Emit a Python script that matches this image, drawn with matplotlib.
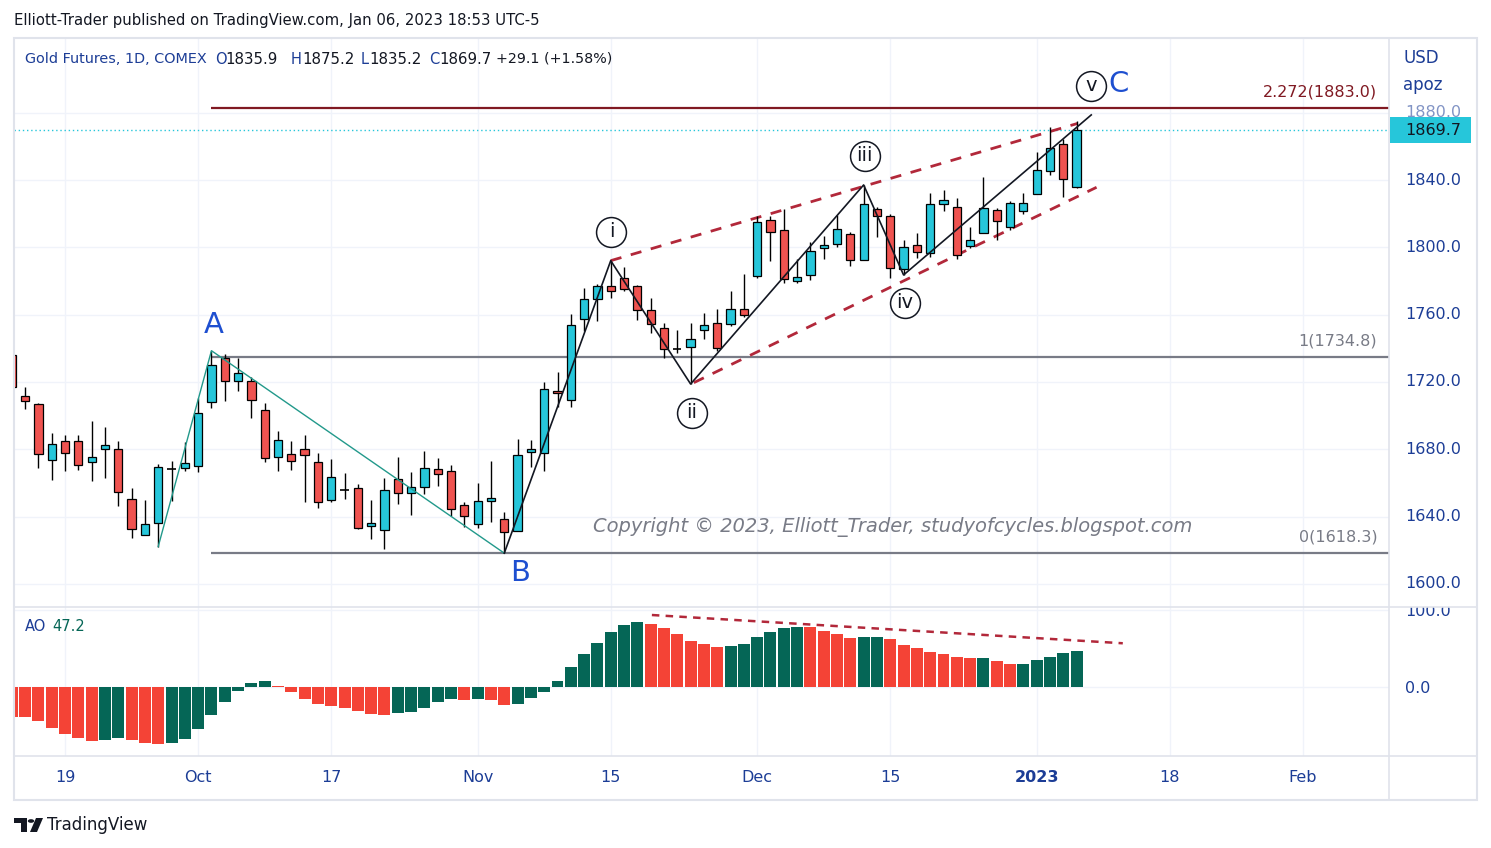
import matplotlib
matplotlib.use('Agg')
import matplotlib.pyplot as plt
from matplotlib.patches import Rectangle, Polygon, Circle
from matplotlib.lines import Line2D

# daily bars, index 0 = 2022-09-19 (trading days only)
bar_idx = list(range(-4, 77))
opens = [1736, 1711.5, 1706.8, 1673.5, 1684.8, 1684.8, 1672.7, 1680.4, 1680, 1650.3,
         1629, 1636, 1668.3, 1669.1, 1669.9, 1708, 1734.1, 1720.4, 1720.4, 1703.2,
         1675.3, 1677.1, 1680, 1672.3, 1649.7, 1655.7, 1656.8, 1634.3, 1631.9, 1662.2,
         1653.9, 1657.5, 1668.1, 1667, 1646.7, 1635.5, 1649.5, 1638.5, 1631.3, 1678.2,
         1677.7, 1714.9, 1709.2, 1757.7, 1769.2, 1776.9, 1781.7, 1776.9, 1762.6, 1752,
         1739.6, 1740.6, 1750.7, 1755, 1754.3, 1763.2, 1782.9, 1816.5, 1810.2, 1780.2,
         1783.5, 1799.5, 1801.9, 1807.8, 1792.4, 1822.7, 1818.5, 1787, 1801.3, 1796.6,
         1825.7, 1824, 1800.7, 1808.5, 1822.2, 1812, 1821.5, 1831.5, 1845.2, 1861.3,
         1835.9]
highs = [1738, 1717, 1707.4, 1689.5, 1688.5, 1688.5, 1696.9, 1693.5, 1685, 1656.8,
         1650, 1671.3, 1673, 1684.2, 1710.3, 1738.6, 1736.5, 1734.1, 1722.8, 1707.4,
         1690.9, 1685, 1688.5, 1677.7, 1674.3, 1666, 1659.4, 1649.9, 1662.8, 1675.5,
         1666.4, 1679, 1674.7, 1670.7, 1648.4, 1660, 1673, 1642.6, 1686.2, 1685.6,
         1719.9, 1725.8, 1760.4, 1775.9, 1778.3, 1792.1, 1788.2, 1777.7, 1769.8, 1755,
         1750.9, 1755, 1760.8, 1763.2, 1773.8, 1784.3, 1818.4, 1818.7, 1822.7, 1792.9,
         1803, 1806.8, 1819.3, 1809.2, 1837.1, 1824.2, 1819.7, 1804.5, 1808.4, 1832.3,
         1834.1, 1829.3, 1812, 1841.8, 1823.2, 1827.6, 1832.1, 1856.5, 1871.4, 1864.3,
         1875.2]
lows = [1715, 1704, 1669, 1662, 1667, 1667.7, 1661.4, 1663.2, 1646.5, 1627.5,
        1629, 1622.2, 1649.5, 1667.4, 1666.8, 1704.4, 1709, 1714.9, 1698.4, 1672.7,
        1667.4, 1667.7, 1648.5, 1645.3, 1648.9, 1650.5, 1632.5, 1626.6, 1621, 1647.7,
        1641.2, 1653.5, 1658.4, 1640.4, 1634.1, 1633.5, 1637, 1618.3, 1631.3, 1669.7,
        1667.4, 1705.4, 1705.4, 1750.3, 1756, 1770.2, 1773.8, 1756.9, 1749.4, 1734.1,
        1737.5, 1718.8, 1745.5, 1738.4, 1753.5, 1758.5, 1782, 1792.1, 1778.7, 1779.1,
        1780.6, 1793.3, 1800.5, 1789.2, 1792.4, 1806.4, 1782, 1783.6, 1793.5, 1794.3,
        1821.9, 1792.9, 1799.7, 1808.5, 1804.4, 1810.4, 1820.1, 1831.5, 1842.9, 1830.2,
        1835.2]
closes = [1717, 1708.6, 1677.1, 1683, 1677.7, 1670.5, 1675.3, 1682.4, 1654.9, 1632.9,
          1635.5, 1669.3, 1668.3, 1671.7, 1701.4, 1729.9, 1720.4, 1725.2, 1709.3, 1674.7,
          1685.4, 1672.9, 1676.4, 1648.5, 1663.4, 1655.7, 1633.5, 1636.2, 1655.7, 1653.9,
          1657.5, 1668.7, 1665.1, 1644.4, 1640.2, 1649.1, 1650.9, 1630.7, 1676.5, 1680,
          1715.7, 1713.3, 1753.7, 1769.2, 1776.9, 1774, 1775.5, 1762.8, 1754.3, 1739.5,
          1739.6, 1745.4, 1753.7, 1740.1, 1763.2, 1759.6, 1815, 1809, 1781.1, 1782.4,
          1797.8, 1801.4, 1810.8, 1792.4, 1825.7, 1818.5, 1787.6, 1800.1, 1797.5, 1825.7,
          1828.1, 1795.4, 1804.3, 1823.4, 1815.6, 1826.3, 1826.3, 1845.8, 1858.9, 1840.5,
          1869.7]
ao_vals = [-38.5, -38.6, -43.7, -52.8, -60.6, -65.8, -69.7, -68.4, -65.8, -68.4,
           -72.3, -73.6, -72.3, -67.1, -54.1, -35.9, -19.0, -4.8, 5.2, 8.2,
           1.3, -6.0, -15.1, -21.6, -24.2, -26.8, -30.7, -34.6, -35.9, -33.3,
           -33.1, -26.8, -19.0, -15.1, -16.4, -15.1, -16.4, -22.9, -21.6, -13.8,
           -6.0, 7.4, 25.5, 42.4, 56.7, 71.0, 80.1, 84.0, 81.4, 76.2,
           68.4, 59.3, 55.4, 51.5, 52.8, 55.4, 64.5, 71.0, 76.2, 77.5,
           77.3, 72.3, 68.4, 63.2, 64.5, 64.6, 61.9, 54.1, 50.2, 45.0,
           42.4, 38.5, 37.2, 37.3, 33.3, 29.4, 29.5, 34.6, 38.5, 43.7,
           47.2]

tick_idx = [0, 10, 20, 31, 41, 52, 62, 73, 83, 93]
tick_lbl = ['19', 'Oct', '17', 'Nov', '15', 'Dec', '15', '2023', '18', 'Feb']
price_ticks = [1600, 1640, 1680, 1720, 1760, 1800, 1840, 1880]
ao_ticks = [100, 0]

# fib extension B -> A
fib_zero, fib_one = 1618.3, 1734.8
fib_ratios = [0, 1, 2.272]
fib_start = 11

# wave pivots (bar index, 'h'/'l')
abc_pivots = [(7, 'l'), (11, 'h'), (33, 'l')]
impulse_pivots = [(33, 'l'), (41, 'h'), (47, 'l'), (60, 'h'), (63, 'l')]
impulse_end = (77.1, 1878.7)
upper_chan = [(41.0, 1792.1), (76.1, 1873.7)]
lower_chan = [(47.24, 1719.6), (77.5, 1835.7)]
ao_trend = [(44.09, 93.5), (79.47, 56.8)]

wave_labels = [('i', 41.05, 1809.2), ('ii', 47.07, 1701.6), ('iii', 60.08, 1854.3),
               ('iv', 63.08, 1767.0), ('v', 77.07, 1895.9)]
abc_labels = [('A', 11.2, 1753.9), ('B', 34.2, 1606.5), ('C', 79.17, 1897.1)]

last_price = closes[-1]

UP, DOWN = '#26c6da', '#ef5350'
AO_UP, AO_DN = '#056656', '#f44336'
NAVY = '#1c3d96'
INK = '#131722'
GRID = '#f0f3fa'
FRAME = '#e0e3eb'

W, H = 1491, 848
def fx(px): return px / W
def fy(py): return 1 - py / H

fig = plt.figure(figsize=(W / 100, H / 100), dpi=100)
fig.patch.set_facecolor('white')

L, R, TOP, MID, BOT, RR, TBOT = 14, 1389, 38, 607, 756, 1477, 800
ax = fig.add_axes([fx(L), fy(MID), (R - L) / W, (MID - TOP) / H])
ax2 = fig.add_axes([fx(L), fy(BOT), (R - L) / W, (BOT - MID) / H])
axr = fig.add_axes([fx(R), fy(MID), (RR - R) / W, (MID - TOP) / H])
axr2 = fig.add_axes([fx(R), fy(BOT), (RR - R) / W, (BOT - MID) / H])

xmin, xmax = -3.834, 99.47
ax.set_xlim(xmin, xmax)
ax2.set_xlim(xmin, xmax)
ax.set_ylim(1586.3, 1924.4)
axr.set_ylim(1586.3, 1924.4)
ax2.set_ylim(-89.6, 103.9)
axr2.set_ylim(-89.6, 103.9)
for a in (ax, ax2, axr, axr2):
    a.axis('off')

# grid
for t in tick_idx:
    ax.axvline(t, color=GRID, lw=1, zorder=0)
    ax2.axvline(t, color=GRID, lw=1, zorder=0)
for p in price_ticks:
    ax.axhline(p, color=GRID, lw=1, zorder=0)
for p in ao_ticks:
    ax2.axhline(p, color=GRID, lw=1, zorder=0)

# fib levels
fib_cols = ['#787b86', '#787b86', '#801922']
for r, c in zip(fib_ratios, fib_cols):
    lvl = fib_zero + r * (fib_one - fib_zero)
    ax.hlines(lvl, fib_start, xmax, color=c, lw=1.6, zorder=2)
    ax.annotate(f'{r:g}({lvl:.1f})', xy=(1, lvl), xycoords=('axes fraction', 'data'),
                xytext=(-8.5, 11.5), textcoords='offset points', ha='right', va='center',
                fontsize=11.5, color=c)

ax.axhline(last_price, color=UP, lw=1, ls=(0, (1, 2)), zorder=1)

# channel
for pts in (upper_chan, lower_chan):
    ax.plot([p[0] for p in pts], [p[1] for p in pts], color='#b2283a', lw=2.0,
            dashes=(4, 3.5), zorder=2)

# candles
for i, o, h, l, c in zip(bar_idx, opens, highs, lows, closes):
    ax.vlines(i, l, h, color='black', lw=1, zorder=3)
    if c == o:
        ax.hlines(c, i - 0.31, i + 0.31, color='black', lw=1.2, zorder=4)
    else:
        col = UP if c > o else DOWN
        ax.add_patch(Rectangle((i - 0.31, min(o, c)), 0.62, abs(c - o), fc=col,
                               ec='black', lw=0.9, zorder=4))

def piv(idx, kind):
    k = bar_idx.index(idx)
    return (idx, highs[k] if kind == 'h' else lows[k])

pa = [piv(*p) for p in abc_pivots]
ax.plot([p[0] for p in pa], [p[1] for p in pa], color='#22998b', lw=1.0, zorder=5)
pi = [piv(*p) for p in impulse_pivots] + [impulse_end]
ax.plot([p[0] for p in pi], [p[1] for p in pi], color=INK, lw=1.2, zorder=5)

for txt, x, y in wave_labels:
    ax.plot(x, y, 'o', ms=21.5, mfc='white', mec=INK, mew=1.1, zorder=6)
    ax.text(x, y, txt, ha='center', va='center', fontsize=14, color=INK, zorder=7)
for txt, x, y in abc_labels:
    ax.text(x, y, txt, ha='center', va='center', fontsize=21, color='#1e4fd0', zorder=7)

fig.text(fx(893), fy(527), 'Copyright © 2023, Elliott_Trader, studyofcycles.blogspot.com',
         ha='center', va='center', fontsize=14, style='italic', color='#787b86')

# AO panel
ao_cols = [AO_DN] + [AO_UP if b > a else AO_DN for a, b in zip(ao_vals[:-1], ao_vals[1:])]
ax2.bar(bar_idx, ao_vals, width=0.9, color=ao_cols, zorder=3)
ax2.plot([p[0] for p in ao_trend], [p[1] for p in ao_trend], color='#b2283a', lw=1.8,
         dashes=(3, 2.5), zorder=4)
ax2.text(0.0077, 0.87, 'AO', transform=ax2.transAxes, fontsize=10.5, color=NAVY, va='center')
ax2.text(0.028, 0.87, f'{ao_vals[-1]:.1f}', transform=ax2.transAxes, fontsize=10.5,
         color=AO_UP, va='center')

# time labels
for t, s in zip(tick_idx, tick_lbl):
    ax2.text(t, -0.141, s, transform=ax2.get_xaxis_transform(), ha='center', va='center',
             fontsize=11.5, color=NAVY, fontweight='bold' if s == '2023' else 'normal')

# price scales (labels clipped to their own pane, as on TradingView)
for p in price_ticks:
    t = axr.text(0.18, p, f'{p:.1f}', fontsize=11.5, color=NAVY, va='center',
                 alpha=0.55 if p == 1880 else 1)
    t.set_clip_on(True)
    t.set_clip_box(axr.bbox)
axr.text(0.16, 0.965, 'USD', transform=axr.transAxes, fontsize=12, color=NAVY, va='center')
axr.text(0.16, 0.917, 'apoz', transform=axr.transAxes, fontsize=12, color=NAVY, va='center')
axr.add_patch(Rectangle((0.011, last_price - 7.7), 0.92, 15.4, fc=UP, ec='none', zorder=3))
axr.text(0.18, last_price, f'{last_price:.1f}', fontsize=11.5, color=INK, va='center',
         zorder=4)
for p in ao_ticks:
    t = axr2.text(0.18, p - 2.5, f'{p:.1f}', fontsize=11.5, color=NAVY, va='center')
    t.set_clip_on(True)
    t.set_clip_box(axr2.bbox)

# frame
fig.add_artist(Rectangle((fx(L), fy(TBOT)), (RR - L) / W, (TBOT - TOP) / H, fill=False,
                         ec=FRAME, lw=1.5, transform=fig.transFigure))
for x0, y0, x1, y1 in [(R, TOP, R, TBOT), (L, MID, RR, MID), (L, BOT, RR, BOT)]:
    fig.add_artist(Line2D([fx(x0), fx(x1)], [fy(y0), fy(y1)], color=FRAME, lw=1.2,
                          transform=fig.transFigure, zorder=5))

# header / legend
fig.text(fx(14), fy(20), 'Elliott-Trader published on TradingView.com, Jan 06, 2023 18:53 UTC-5',
         fontsize=10.7, color=INK, va='center')
legend_parts = [(25, 'Gold Futures, 1D, COMEX', NAVY, 10.4), (215, 'O', NAVY, 10.5),
                (225, '1835.9', INK, 10.8), (291, 'H', NAVY, 10.5), (302, '1875.2', INK, 10.8),
                (361, 'L', NAVY, 10.5), (369, '1835.2', INK, 10.8), (429, 'C', NAVY, 10.5),
                (439, '1869.7', INK, 10.8), (496, '+29.1 (+1.58%)', INK, 10.3)]
for px, s, c, fs in legend_parts:
    fig.text(fx(px), fy(59), s, fontsize=fs, color=c, va='center')

# TradingView logo
fig.add_artist(Polygon([(fx(14), fy(818)), (fx(27), fy(818)), (fx(27), fy(832)), (fx(21), fy(832)),
                        (fx(21), fy(823)), (fx(14), fy(823))], closed=True, fc=INK,
                       ec='none', transform=fig.transFigure))
fig.add_artist(Circle((fx(31), fy(821)), 3.2 / W, fc=INK, ec='none',
                      transform=fig.transFigure))
fig.add_artist(Polygon([(fx(36), fy(818)), (fx(43), fy(818)), (fx(37), fy(832)), (fx(30), fy(832))],
                       closed=True, fc=INK, ec='none', transform=fig.transFigure))
fig.text(fx(47), fy(825), 'TradingView', fontsize=12, color=INK, va='center')

fig.savefig('out.png', dpi=100, facecolor='white')
